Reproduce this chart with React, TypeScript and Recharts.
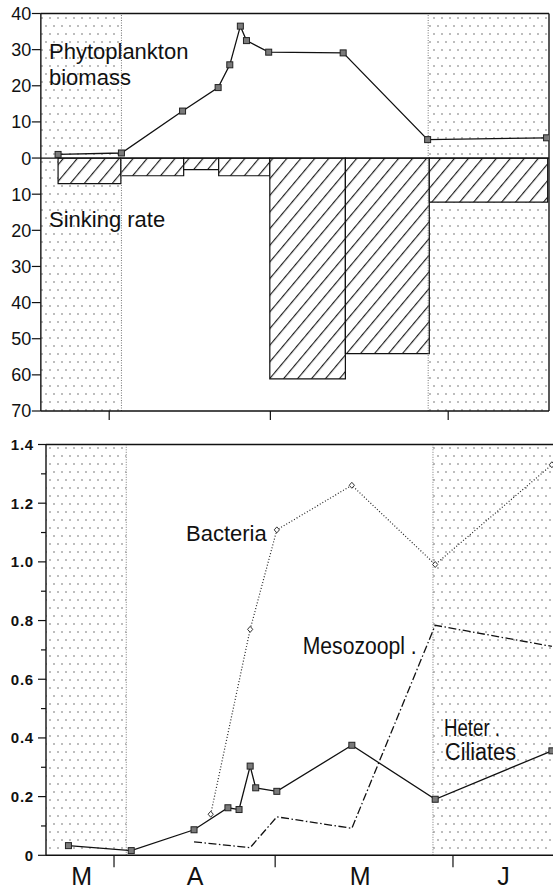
import React from 'react';
import { ComposedChart, Line, XAxis, YAxis, ReferenceArea, ReferenceLine } from 'recharts';

// ---------- top panel: phytoplankton biomass and sinking rate ----------
const phytoDays = [21.8, 33.2, 44.2, 50.6, 52.7, 54.6, 55.7, 59.7, 73.1, 88.3, 109.7];
const phytoBiomass = [1.0, 1.4, 13.0, 19.5, 25.8, 36.5, 32.5, 29.3, 29.1, 5.1, 5.6];

const sinkStart = [21.8, 33.1, 44.4, 50.7, 59.9, 73.5, 88.6];
const sinkEnd = [33.1, 44.4, 50.7, 59.9, 73.5, 88.6, 109.9];
const sinkRate = [7.1, 4.9, 3.2, 4.9, 61.1, 54.1, 12.2];

const topYTicks = [-70, -60, -50, -40, -30, -20, -10, 0, 10, 20, 30, 40];

// ---------- bottom panel: bacteria, mesozooplankton, heterotrophic ciliates ----------
const bottomDays = [22.8, 34.1, 45.4, 48.4, 51.5, 53.5, 55.5, 56.5, 60.3, 73.8, 88.8, 109.8];
const ciliates = [0.033, 0.016, 0.087, null, 0.162, 0.156, 0.304, 0.23, 0.218, 0.375, 0.191, 0.356];
const bacteria = [null, null, null, 0.14, null, null, 0.77, null, 1.109, 1.261, 0.991, 1.331];
const mesozoo = [null, null, 0.046, null, null, null, 0.026, null, 0.131, 0.092, 0.784, 0.712];

const bottomYTicks = [0, 0.1, 0.2, 0.3, 0.4, 0.5, 0.6, 0.7, 0.8, 0.9, 1.0, 1.1, 1.2, 1.3, 1.4];

// ---------- shared time axis (days from 1 March) ----------
const topDomain: [number, number] = [18.7, 110.14];
const bottomDomain: [number, number] = [18.76, 110.0];
const monthBoundaries = [31, 60, 92];
const monthCenters = [25.2, 45.6, 75.3, 101.1];
const monthLabels = ['M', 'A', 'M', 'J'];
const stippleStart = [33.2, 88.4];

const FONT = '"Liberation Sans", Arial, Helvetica, sans-serif';
const INK = '#111';

const topData = phytoDays.map((d, i) => ({ day: d, biomass: phytoBiomass[i] }));
const bottomData = bottomDays.map((d, i) => ({
  day: d,
  ciliates: ciliates[i],
  bacteria: bacteria[i],
  mesozoo: mesozoo[i],
}));

const SquareDot = (props: any) => {
  const { cx, cy, index } = props;
  if (cx == null || cy == null) return <g key={`s${index}`} />;
  return (
    <rect key={`s${index}`} x={cx - 3} y={cy - 3} width={6} height={6} fill="#7a7a7a" stroke="#222" strokeWidth={1} />
  );
};

const DiamondDot = (props: any) => {
  const { cx, cy, index } = props;
  if (cx == null || cy == null) return <g key={`d${index}`} />;
  return (
    <path
      key={`d${index}`}
      d={`M${cx},${cy - 3}L${cx + 2.6},${cy}L${cx},${cy + 3}L${cx - 2.6},${cy}Z`}
      fill="#fff"
      stroke="#333"
      strokeWidth={1}
    />
  );
};

const TopYTick = (props: any) => {
  const { x, y, payload } = props;
  return (
    <g>
      <line x1={x - 9} x2={x} y1={y} y2={y} stroke={INK} strokeWidth={1.2} />
      <text x={x - 9.5} y={y} dy="0.36em" textAnchor="end" fontSize={18} fontFamily={FONT} fill={INK}>
        {Math.abs(payload.value)}
      </text>
    </g>
  );
};

const BottomYTick = (props: any) => {
  const { x, y, payload } = props;
  const v = payload.value as number;
  const major = Math.round(v * 10) % 2 === 0;
  return (
    <g>
      <line x1={x - (major ? 8 : 5)} x2={x} y1={y} y2={y} stroke={INK} strokeWidth={1.2} />
      {major && (
        <text
          x={x - 12}
          y={y}
          dy="0.36em"
          textAnchor="end"
          fontSize={15}
          fontWeight="bold"
          fontFamily={FONT}
          fill={INK}
          letterSpacing={0.8}
        >
          {v === 0 ? '0' : v.toFixed(1)}
        </text>
      )}
    </g>
  );
};

const TopXTick = (props: any) => {
  const { x, y } = props;
  return <line x1={x} x2={x} y1={y} y2={y + 9} stroke={INK} strokeWidth={1.2} />;
};

const BottomXTick = (props: any) => {
  const { x, y, payload } = props;
  const idx = monthCenters.indexOf(payload.value);
  if (idx >= 0) {
    return (
      <text x={x} y={y + 30} textAnchor="middle" fontSize={25} fontFamily={FONT} fill={INK}>
        {monthLabels[idx]}
      </text>
    );
  }
  return <line x1={x} x2={x} y1={y} y2={y + 12} stroke={INK} strokeWidth={1.2} />;
};

const Patterns = () => (
  <defs>
    <pattern id="stipple" width={8} height={16} patternUnits="userSpaceOnUse">
      <rect x={1.2} y={1.2} width={1.6} height={1.6} fill="#333" />
      <rect x={5.2} y={9.2} width={1.6} height={1.6} fill="#333" />
    </pattern>
    <pattern id="hatch" width={10.7} height={10} patternUnits="userSpaceOnUse" patternTransform="rotate(40)">
      <rect x={0} y={0} width={10.7} height={10} fill="#fff" />
      <line x1={0.6} y1={0} x2={0.6} y2={10} stroke="#111" strokeWidth={1.1} />
    </pattern>
  </defs>
);

const topXTicks = monthBoundaries;
const bottomXTicks = [...monthBoundaries, ...monthCenters].sort((a, b) => a - b);

export default function App() {
  return (
    <div style={{ position: 'absolute', left: 0, top: 0, width: 553, height: 890, background: '#fff', overflow: 'hidden' }}>
      <div style={{ position: 'absolute', left: 0, top: 0 }}>
        <ComposedChart width={553} height={430} data={topData} margin={{ top: 13.5, right: 4, left: 0, bottom: 0 }}>
          <Patterns />
          <XAxis
            type="number"
            dataKey="day"
            domain={topDomain}
            allowDataOverflow
            ticks={topXTicks}
            interval={0}
            height={19}
            tickSize={0}
            tickMargin={0}
            tickLine={false}
            tick={<TopXTick />}
            axisLine={{ stroke: INK, strokeWidth: 1.4 }}
          />
          <YAxis
            type="number"
            domain={[-70, 40]}
            allowDataOverflow
            ticks={topYTicks}
            interval={0}
            width={40.85}
            tickSize={0}
            tickMargin={0}
            tickLine={false}
            tick={<TopYTick />}
            axisLine={{ stroke: INK, strokeWidth: 1.4 }}
          />
          <ReferenceArea x1={topDomain[0]} x2={stippleStart[0]} y1={-70} y2={40} fill="url(#stipple)" stroke="none" />
          <ReferenceArea x1={stippleStart[1]} x2={topDomain[1]} y1={-70} y2={40} fill="url(#stipple)" stroke="none" />
          <ReferenceLine x={stippleStart[0]} stroke="#777" strokeDasharray="1 1.5" />
          <ReferenceLine x={stippleStart[1]} stroke="#777" strokeDasharray="1 1.5" />
          {sinkRate.map((r, i) => (
            <ReferenceArea
              key={`sink${i}`}
              x1={sinkStart[i]}
              x2={sinkEnd[i]}
              y1={0}
              y2={-r}
              fill="url(#hatch)"
              fillOpacity={1}
              stroke={INK}
              strokeWidth={1.2}
            />
          ))}
          <ReferenceLine y={0} stroke={INK} strokeWidth={1.2} />
          <ReferenceLine y={40} stroke={INK} strokeWidth={1.4} />
          <ReferenceLine x={topDomain[1]} stroke={INK} strokeWidth={1.4} />
          <Line
            dataKey="biomass"
            stroke={INK}
            strokeWidth={1.3}
            dot={SquareDot}
            activeDot={false}
            isAnimationActive={false}
          />
        </ComposedChart>
      </div>
      <div style={{ position: 'absolute', left: 0, top: 430 }}>
        <ComposedChart width={553} height={460} data={bottomData} margin={{ top: 14.5, right: 0, left: 0, bottom: 0 }}>
          <Patterns />
          <XAxis
            type="number"
            dataKey="day"
            domain={bottomDomain}
            allowDataOverflow
            ticks={bottomXTicks}
            interval={0}
            height={34.7}
            tickSize={0}
            tickMargin={0}
            tickLine={false}
            tick={<BottomXTick />}
            axisLine={{ stroke: INK, strokeWidth: 1.4 }}
          />
          <YAxis
            type="number"
            domain={[0, 1.4]}
            allowDataOverflow
            ticks={bottomYTicks}
            interval={0}
            width={46}
            tickSize={0}
            tickMargin={0}
            tickLine={false}
            tick={<BottomYTick />}
            axisLine={{ stroke: INK, strokeWidth: 1.4 }}
          />
          <ReferenceArea x1={bottomDomain[0]} x2={stippleStart[0]} y1={0} y2={1.4} fill="url(#stipple)" stroke="none" />
          <ReferenceArea x1={stippleStart[1]} x2={bottomDomain[1]} y1={0} y2={1.4} fill="url(#stipple)" stroke="none" />
          <ReferenceLine x={stippleStart[0]} stroke="#777" strokeDasharray="1 1.5" />
          <ReferenceLine x={stippleStart[1]} stroke="#777" strokeDasharray="1 1.5" />
          <ReferenceLine y={1.4} stroke={INK} strokeWidth={1.4} />
          <Line
            dataKey="bacteria"
            stroke="#222"
            strokeWidth={1.2}
            strokeDasharray="1 2"
            connectNulls
            dot={DiamondDot}
            activeDot={false}
            isAnimationActive={false}
          />
          <Line
            dataKey="mesozoo"
            stroke={INK}
            strokeWidth={1.3}
            strokeDasharray="8 2.5 1.5 2.5"
            connectNulls
            dot={false}
            activeDot={false}
            isAnimationActive={false}
          />
          <Line
            dataKey="ciliates"
            stroke={INK}
            strokeWidth={1.3}
            connectNulls
            dot={SquareDot}
            activeDot={false}
            isAnimationActive={false}
          />
        </ComposedChart>
      </div>
      <svg
        width={553}
        height={890}
        style={{ position: 'absolute', left: 0, top: 0, pointerEvents: 'none' }}
        fontFamily={FONT}
        fill={INK}
      >
        <text x={49} y={59} fontSize={22}>Phytoplankton</text>
        <text x={49} y={85} fontSize={22}>biomass</text>
        <text x={49} y={227} fontSize={22}>Sinking rate</text>
        <text x={186} y={540.5} fontSize={22}>Bacteria</text>
        <text x={302.7} y={654} fontSize={23} textLength={114} lengthAdjust="spacingAndGlyphs">Mesozoopl .</text>
        <text x={444} y={736} fontSize={23} textLength={56} lengthAdjust="spacingAndGlyphs">Heter .</text>
        <text x={445} y={760} fontSize={23} textLength={71} lengthAdjust="spacingAndGlyphs">Ciliates</text>
      </svg>
    </div>
  );
}
